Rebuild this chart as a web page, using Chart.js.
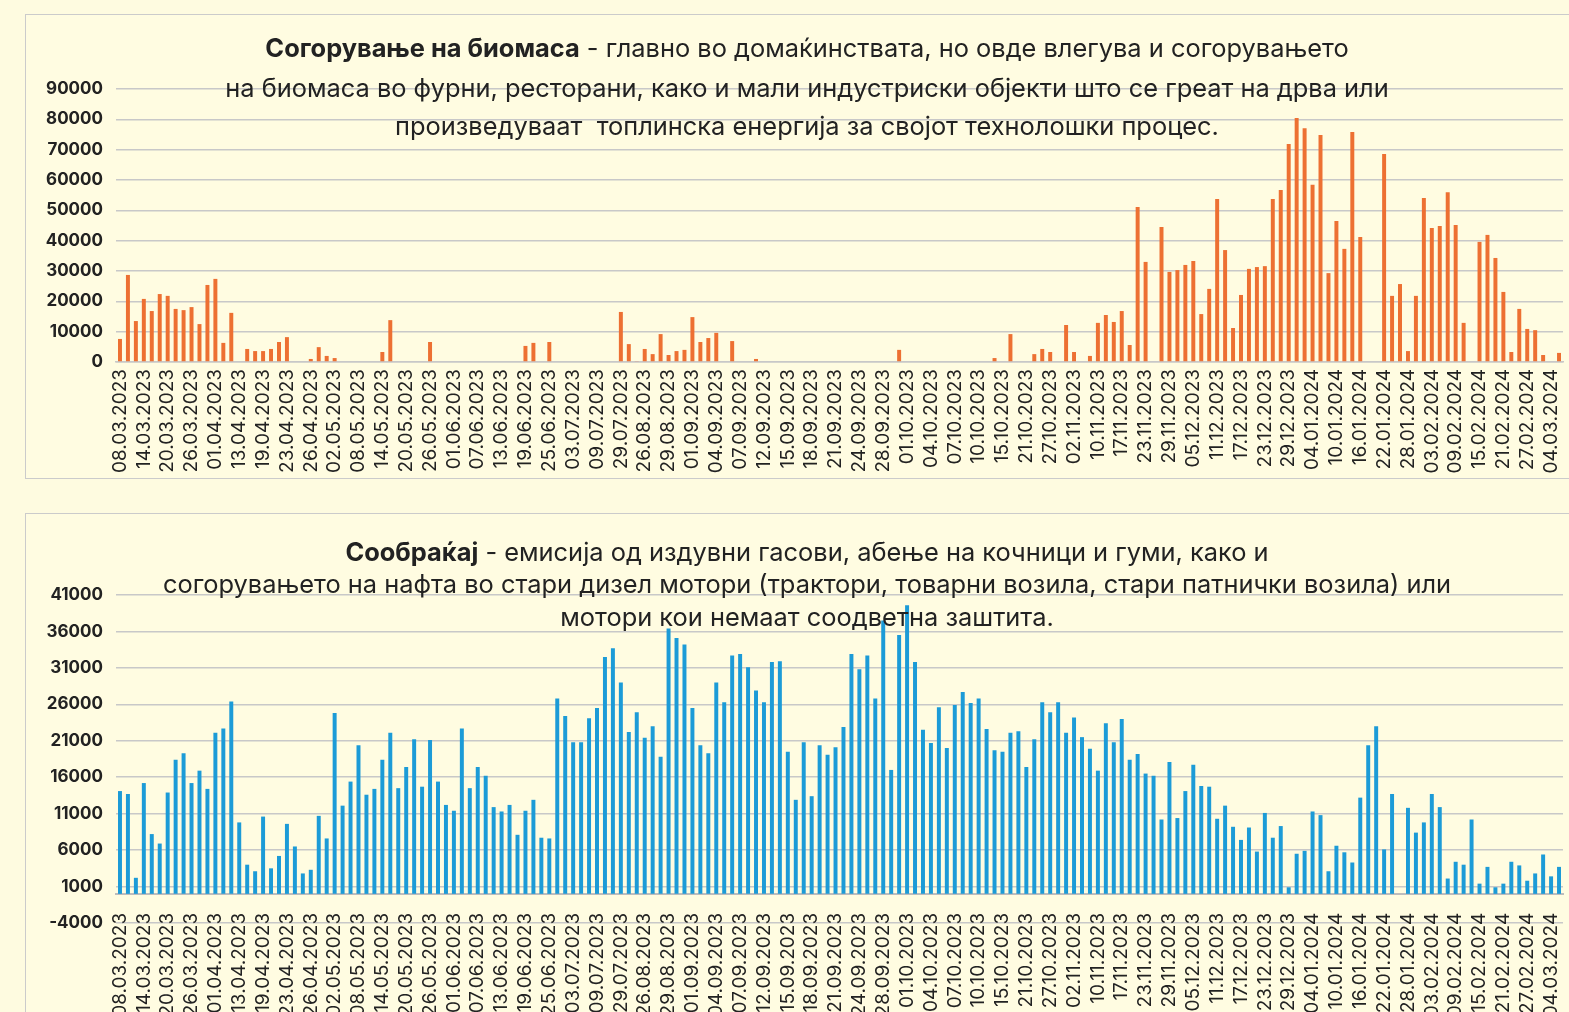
<!DOCTYPE html>
<html lang="mk">
<head>
<meta charset="utf-8">
<title>Согорување на биомаса / Сообраќај</title>
<script src="https://cdn.jsdelivr.net/npm/chart.js@4.4.1/dist/chart.umd.min.js"></script>
<style>
  html, body { margin: 0; padding: 0; overflow: hidden; }
  body {
    width: 1569px; height: 1012px; position: relative;
    background: #fefbe0; font-family: Inter, sans-serif; color: #222;
  }
  .box {
    position: absolute; left: 25px; width: 1564px; box-sizing: border-box;
    border: 1.5px solid #cbcbcb; background: #fffce1;
  }
  #box1 { top: 14px; height: 465px; }
  #box2 { top: 513px; height: 530px; }
  canvas { position: absolute; }
  #c1 { left: 26px; top: 16px; }
  #c2 { left: 26px; top: 515px; }
  .ttl {
    position: absolute; left: 25px; width: 1564px; text-align: center;
    font-size: 25.4px; line-height: 30px; white-space: pre; color: #222;
  }
  .ttl b { font-weight: 700; }
</style>
</head>
<body>
<div class="box" id="box1"></div>
<div class="box" id="box2"></div>
<canvas id="c1" width="1543" height="461"></canvas>
<canvas id="c2" width="1543" height="497"></canvas>

<div class="ttl" style="top:33px"><b>Согорување на биомаса</b> - главно во домаќинствата, но овде влегува и согорувањето</div>
<div class="ttl" style="top:73px">на биомаса во фурни, ресторани, како и мали индустриски објекти што се греат на дрва или</div>
<div class="ttl" style="top:111px">произведуваат  топлинска енергија за својот технолошки процес.</div>

<div class="ttl" style="top:537px"><b>Сообраќај</b> - емисија од издувни гасови, абење на кочници и гуми, како и</div>
<div class="ttl" style="top:569px">согорувањето на нафта во стари дизел мотори (трактори, товарни возила, стари патнички возила) или</div>
<div class="ttl" style="top:602px">мотори кои немаат соодветна заштита.</div>

<script>
// date shown under every third bar
const tickLabels = [
  "08.03.2023", "14.03.2023", "20.03.2023", "26.03.2023", "01.04.2023",
  "13.04.2023", "19.04.2023", "23.04.2023", "26.04.2023", "02.05.2023",
  "08.05.2023", "14.05.2023", "20.05.2023", "26.05.2023", "01.06.2023",
  "07.06.2023", "13.06.2023", "19.06.2023", "25.06.2023", "03.07.2023",
  "09.07.2023", "29.07.2023", "26.08.2023", "29.08.2023", "01.09.2023",
  "04.09.2023", "07.09.2023", "12.09.2023", "15.09.2023", "18.09.2023",
  "21.09.2023", "24.09.2023", "28.09.2023", "01.10.2023", "04.10.2023",
  "07.10.2023", "10.10.2023", "15.10.2023", "21.10.2023", "27.10.2023",
  "02.11.2023", "10.11.2023", "17.11.2023", "23.11.2023", "29.11.2023",
  "05.12.2023", "11.12.2023", "17.12.2023", "23.12.2023", "29.12.2023",
  "04.01.2024", "10.01.2024", "16.01.2024", "22.01.2024", "28.01.2024",
  "03.02.2024", "09.02.2024", "15.02.2024", "21.02.2024", "27.02.2024",
  "04.03.2024",
];

const biomass = [
  7600, 28700, 13500, 20800, 16800, 22400, 21800, 17500, 17100, 18100,
  12500, 25400, 27400, 6300, 16200, 0, 4300, 3600, 3600, 4300,
  6600, 8200, 0, 0, 1000, 4900, 2000, 1300, 0, 0,
  0, 0, 0, 3300, 13800, 0, 0, 0, 0, 6600,
  0, 0, 0, 0, 0, 0, 0, 0, 0, 0,
  0, 5300, 6300, 0, 6600, 0, 0, 0, 0, 0,
  0, 0, 0, 16500, 5900, 300, 4300, 2600, 9200, 2300,
  3600, 4000, 14800, 6600, 7900, 9600, 0, 6900, 0, 0,
  1000, 0, 0, 0, 0, 0, 0, 0, 0, 0,
  0, 0, 0, 0, 0, 0, 0, 0, 4000, 0,
  0, 0, 0, 0, 0, 0, 0, 0, 0, 0,
  1300, 0, 9200, 0, 0, 2600, 4300, 3300, 0, 12200,
  3300, 0, 2000, 12900, 15500, 13200, 16800, 5600, 51100, 33000,
  0, 44500, 29700, 30300, 32000, 33300, 15800, 24100, 53700, 36900,
  11200, 22100, 30700, 31300, 31600, 53700, 56700, 71900, 80400, 77100,
  58400, 74800, 29300, 46500, 37300, 75800, 41200, 0, 0, 68600,
  21800, 25700, 3600, 21800, 54100, 44200, 44800, 56000, 45200, 12900,
  0, 39600, 41900, 34300, 23100, 3300, 17500, 10900, 10500, 2300,
  0, 3000,
];

const traffic = [
  14100, 13700, 2200, 15200, 8200, 6900, 13900, 18400, 19300, 15200,
  16900, 14400, 22100, 22700, 26400, 9800, 4000, 3100, 10600, 3500,
  5200, 9600, 6500, 2800, 3300, 10700, 7600, 24800, 12100, 15400,
  20400, 13600, 14400, 18400, 22100, 14500, 17400, 21200, 14700, 21100,
  15400, 12200, 11400, 22700, 14500, 17400, 16200, 11900, 11300, 12200,
  8100, 11400, 12900, 7700, 7600, 26800, 24400, 20800, 20800, 24100,
  25500, 32500, 33700, 29000, 22200, 24900, 21400, 23000, 18800, 36400,
  35100, 34200, 25500, 20400, 19300, 29000, 26300, 32700, 32900, 31100,
  27900, 26300, 31800, 31900, 19500, 12900, 20800, 13400, 20400, 19100,
  20100, 22900, 32900, 30800, 32700, 26800, 37500, 17000, 35500, 39600,
  31800, 22500, 20700, 25600, 20000, 25900, 27700, 26200, 26800, 22600,
  19700, 19500, 22100, 22300, 17400, 21200, 26300, 24900, 26300, 22100,
  24200, 21500, 19900, 16900, 23400, 20800, 24000, 18400, 19200, 16500,
  16200, 10200, 18100, 10400, 14100, 17700, 14800, 14700, 10300, 12100,
  9200, 7400, 9100, 5800, 11100, 7700, 9300, 900, 5500, 5900,
  11300, 10800, 3100, 6600, 5700, 4300, 13200, 20400, 23000, 6100,
  13700, 0, 11800, 8400, 9800, 13700, 11900, 2100, 4400, 4000,
  10200, 1400, 3700, 900, 1400, 4400, 3900, 1800, 2800, 5400,
  2400, 3700,
];

// one category per bar, the date label sits on every third one
const categories = biomass.map((v, i) => (i % 3 === 0 ? tickLabels[i / 3] || "" : ""));

Chart.defaults.font.family = "Inter, sans-serif";
Chart.defaults.color = "#222";

const gridColor = "#c8c8c8";

// keep the plot running right up to the edges (no extra room for the rotated labels)
function noSidePadding(scale) {
  scale.paddingLeft = 0;
  scale.paddingRight = 0;
}

function barChart(canvasId, values, color, yOpts, xOpts, padding) {
  return new Chart(document.getElementById(canvasId), {
    type: "bar",
    data: {
      labels: categories,
      datasets: [
        {
          data: values,
          backgroundColor: color,
          categoryPercentage: 1,
          barPercentage: 0.5,
        },
      ],
    },
    options: {
      responsive: false,
      animation: false,
      layout: { padding: padding },
      plugins: {
        legend: { display: false },
        tooltip: { enabled: false },
      },
      scales: {
        x: Object.assign({ grid: { display: false, drawTicks: false } }, xOpts),
        y: Object.assign(
          {
            grid: { color: gridColor, lineWidth: 1.5, drawTicks: false },
            border: { display: false },
            afterFit: (scale) => {
              scale.width = 90;
            },
          },
          yOpts
        ),
      },
    },
  });
}

const xTicks = (pad) => ({
  autoSkip: false,
  maxRotation: 90,
  minRotation: 90,
  padding: pad,
  font: { size: 19 },
  color: "#222",
});

const yTicks = (step) => ({
  stepSize: step,
  padding: 13,
  font: { size: 17, weight: "bold" },
  color: "#222",
  callback: (v) => String(v),
});

barChart(
  "c1",
  biomass,
  "#ed7032",
  { min: 0, max: 90000, ticks: yTicks(10000) },
  {
    border: { color: gridColor, width: 1.5 },
    ticks: xTicks(7),
    afterFit: (scale) => {
      noSidePadding(scale);
      scale.height = 115;
    },
  },
  { top: 73, left: 0, right: 6, bottom: 0 }
);

barChart(
  "c2",
  traffic,
  "#1c9bd7",
  { min: -4000, max: 41000, ticks: yTicks(5000) },
  {
    // axis line and labels sit at zero, as in the spreadsheet chart
    position: { y: 0 },
    border: { color: "#bdbdbd", width: 2 },
    ticks: xTicks(19),
    afterFit: noSidePadding,
  },
  { top: 80, left: 0, right: 6, bottom: 89 }
);
</script>
</body>
</html>
